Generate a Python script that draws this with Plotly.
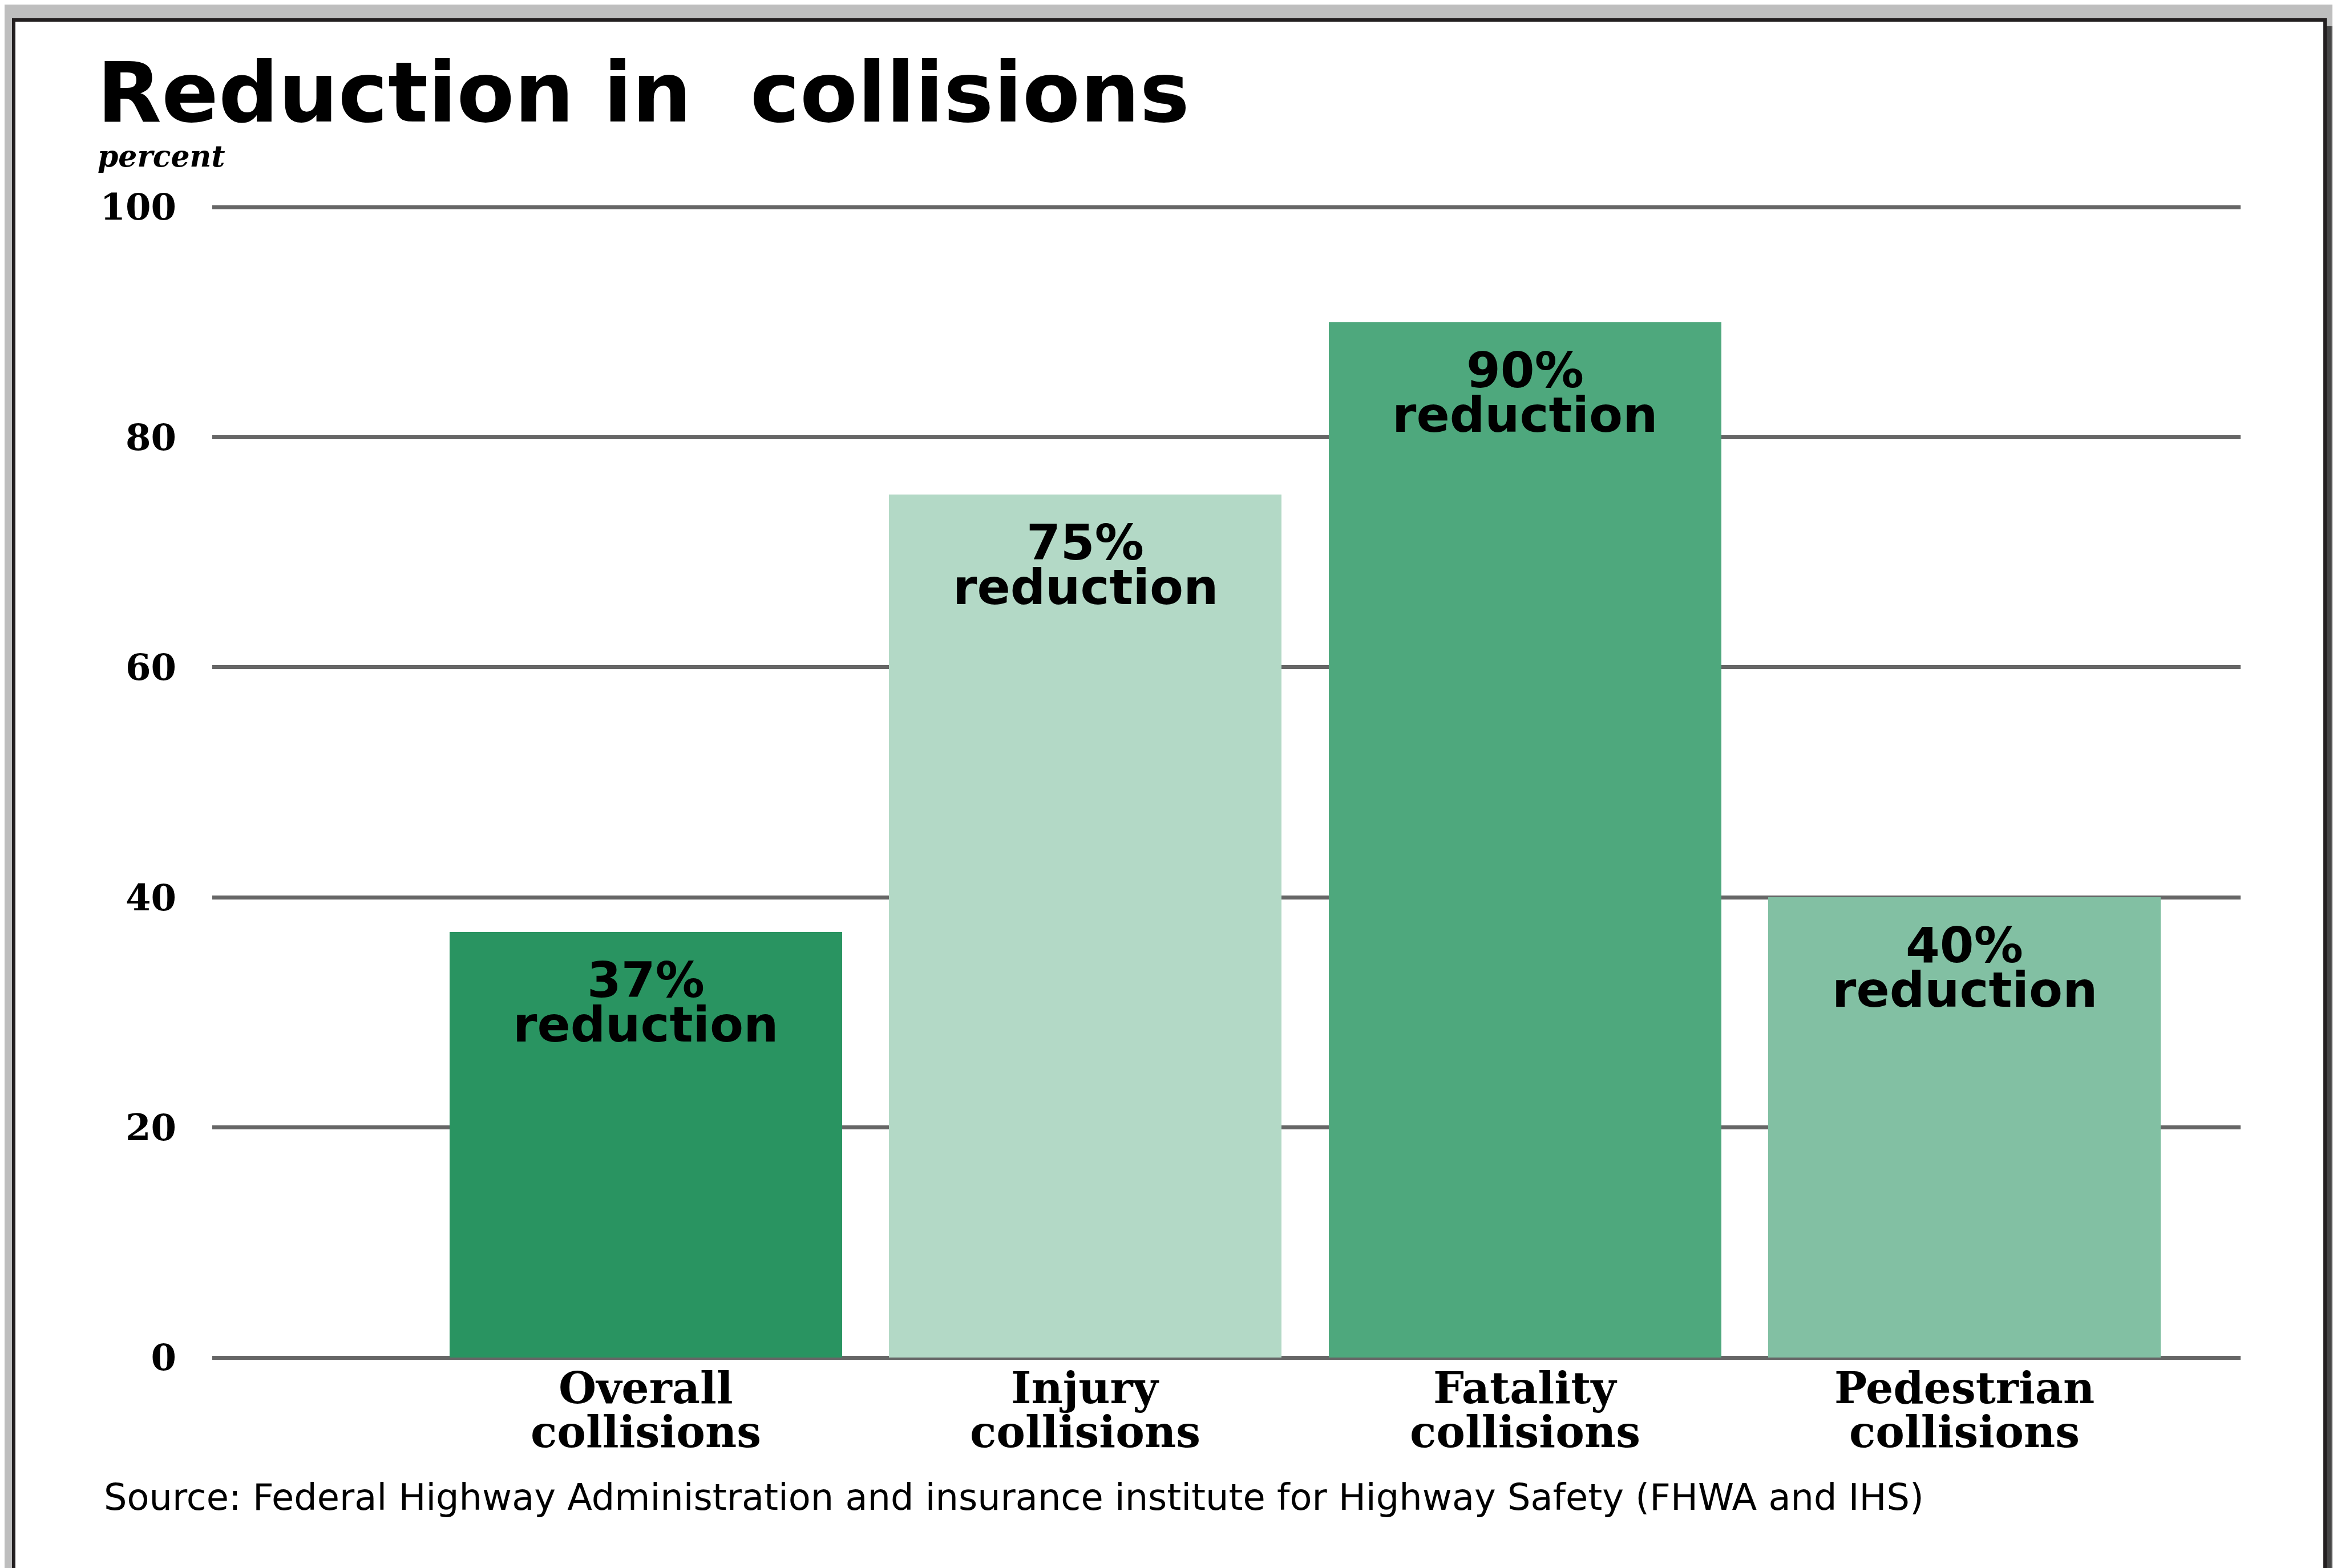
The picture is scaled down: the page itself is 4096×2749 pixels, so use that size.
import plotly.graph_objects as go

# ---- data ----
categories = ["Overall<br>collisions", "Injury<br>collisions", "Fatality<br>collisions", "Pedestrian<br>collisions"]
values = [37, 75, 90, 40]
bar_colors = ["#299461", "#B3D9C6", "#4EA87D", "#82C0A3"]
y_ticks = [0, 20, 40, 60, 80, 100]
title_text = "Reduction in\u00a0 collisions"
unit_text = "percent"
source_text = "Source: Federal Highway Administration and insurance institute for Highway Safety (FHWA and IHS)"

# ---- layout geometry (pixels) ----
W, H = 4096, 2749
Y_TOP = 100.25
ML, MR, MT, MB = 364, 177, 350, 377
PW = W - ML - MR
PH = H - MT - MB


def px(x):
    return (x - ML) / PW


def py(y):
    return (H - MB - y) / PH


fig = go.Figure()
fig.add_trace(go.Bar(
    x=categories, y=values,
    marker=dict(color=bar_colors, line=dict(width=0)),
    width=0.893,
    hoverinfo="skip",
))

shapes = []
# black frame (top/left/right) and white panel
shapes.append(dict(type="rect", xref="paper", yref="paper", layer="below",
                   x0=px(13), x1=px(4070), y0=py(2800), y1=py(24),
                   fillcolor="#231F20", line=dict(width=0)))
shapes.append(dict(type="rect", xref="paper", yref="paper", layer="below",
                   x0=px(19), x1=px(4064), y0=py(2800), y1=py(30),
                   fillcolor="#FFFFFF", line=dict(width=0)))
# right drop shadow
for (a, b, c) in [(4070, 4078, "#464646"), (4078, 4084, "#5e5e5e"), (4084, 4089, "#7d7d7d"), (4089, 4093, "#9e9e9e")]:
    shapes.append(dict(type="rect", xref="paper", yref="paper", layer="below",
                       x0=px(a), x1=px(b), y0=py(2800), y1=py(38),
                       fillcolor=c, line=dict(width=0)))

annotations = []
annotations.append(dict(text="<b>" + title_text + "</b>", xref="paper", yref="paper",
                        x=px(160), y=py(155), xanchor="left", yanchor="middle", showarrow=False,
                        font=dict(family="DejaVu Sans", size=147, color="#000000")))
annotations.append(dict(text="<b><i>" + unit_text + "</i></b>", xref="paper", yref="paper",
                        x=px(161), y=py(265), xanchor="left", yanchor="middle", showarrow=False,
                        font=dict(family="DejaVu Serif", size=52, color="#000000")))
annotations.append(dict(text=source_text, xref="paper", yref="paper",
                        x=px(172), y=py(2617), xanchor="left", yanchor="middle", showarrow=False,
                        font=dict(family="DejaVu Sans", size=63.8, color="#000000")))
for cat, v in zip(categories, values):
    annotations.append(dict(text=f"<b>{v}%</b>", x=cat, y=v, xref="x", yref="y",
                            xanchor="center", yanchor="middle", yshift=-84, showarrow=False,
                            font=dict(family="DejaVu Sans", size=86, color="#000000")))
    annotations.append(dict(text="<b>reduction</b>", x=cat, y=v, xref="x", yref="y",
                            xanchor="center", yanchor="middle", yshift=-162, showarrow=False,
                            font=dict(family="DejaVu Sans", size=86, color="#000000")))
    # category label, two lines under the axis
    line1, line2 = cat.split("<br>")
    annotations.append(dict(text=f"<b>{line1}</b>", x=cat, xref="x", yref="paper", y=py(2425),
                            xanchor="center", yanchor="middle", showarrow=False,
                            font=dict(family="DejaVu Serif", size=76, color="#000000")))
    annotations.append(dict(text=f"<b>{line2}</b>", x=cat, xref="x", yref="paper", y=py(2502),
                            xanchor="center", yanchor="middle", showarrow=False,
                            font=dict(family="DejaVu Serif", size=76, color="#000000")))

fig.update_layout(
    width=W, height=H,
    margin=dict(l=ML, r=MR, t=MT, b=MB, pad=0),
    paper_bgcolor="#BEBEBE",
    plot_bgcolor="rgba(0,0,0,0)",
    showlegend=False,
    shapes=shapes,
    annotations=annotations,
    bargap=0,
)
fig.update_xaxes(
    range=[-0.986, 3.628],
    showgrid=False, zeroline=False, showline=False,
    ticks="", showticklabels=False,
)
fig.update_yaxes(
    range=[0, Y_TOP],
    tickvals=y_ticks,
    ticktext=[f"<b>{t}</b>" for t in y_ticks],
    showgrid=True, gridcolor="#666666", gridwidth=7,
    zeroline=True, zerolinecolor="#666666", zerolinewidth=7,
    showline=False, ticks="", ticklabelstandoff=62,
    tickfont=dict(family="DejaVu Serif", size=64, color="#000000"),
)

fig.write_html("out.html")
